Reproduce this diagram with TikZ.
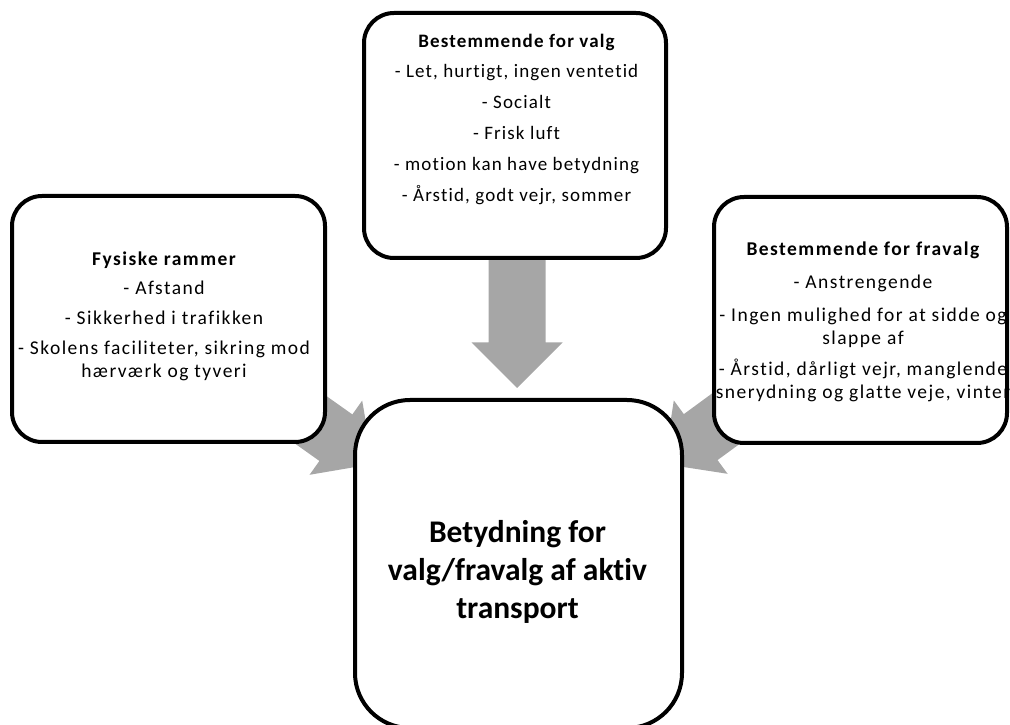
\documentclass[tikz,border=0pt]{standalone}
\usepackage{fontspec}
\setmainfont[Ligatures={NoCommon}]{Carlito}
\newfontfamily\topfont[LetterSpace=6,Ligatures={NoCommon}]{Carlito}
\newfontfamily\sidefont[LetterSpace=7.5,Ligatures={NoCommon}]{Carlito}
\usetikzlibrary{calc}
\pgfdeclarelayer{background}
\pgfsetlayers{background,main}
\definecolor{arrowgray}{HTML}{A6A6A6}

% Block arrow from #1 (start of the shaft) to #2 (tip)
\newcommand\blockarrow[2]{%
  \coordinate (ha) at ($(#2)!45.5pt!(#1)$);
  \fill[arrowgray]
    ($(#1)!28.5pt!90:(#2)$) -- ($(ha)!28.5pt!90:(#2)$) -- ($(ha)!45.5pt!90:(#2)$)
    -- (#2)
    -- ($(ha)!45.5pt!-90:(#2)$) -- ($(ha)!28.5pt!-90:(#2)$) -- ($(#1)!28.5pt!-90:(#2)$)
    -- cycle;}

\begin{document}
\begin{tikzpicture}[x=1pt,y=1pt,
  box/.style={draw=black, line width=4pt, fill=white, rounded corners=30pt, inner sep=0pt},
  boxtext/.style={align=center, anchor=base, inner sep=0pt},
  toptext/.style={font=\topfont\fontsize{19}{31}\selectfont},
  sidetext/.style={font=\sidefont\fontsize{19.5}{#1}\selectfont},
  bigtext/.style={font=\fontsize{31.5}{38}\selectfont\bfseries}]
\useasboundingbox (0,0) rectangle (1010,724);

% boxes
\node[box, minimum width=302pt, minimum height=245pt] (valg) at (515,588.5) {};
\node[box, minimum width=313pt, minimum height=246pt] (fysisk) at (168.5,405) {};
\node[box, minimum width=293pt, minimum height=246pt] (fravalg) at (860.5,404) {};
\node[box, rounded corners=55pt, minimum width=327pt, minimum height=328pt] (betydning) at (518.5,160) {};

% arrow tips and shaft starts
\coordinate (valgstart) at (517,500);
\coordinate (valgtip) at (517,336);
\coordinate (fysisktip) at (373,260);
\coordinate (fravalgtip) at (664,260);

\begin{pgfonlayer}{background}
  \blockarrow{valgstart}{valgtip}
  \blockarrow{fysisk.center}{fysisktip}
  \blockarrow{fravalg.center}{fravalgtip}
\end{pgfonlayer}

% texts (each node is placed at the baseline of its last line)
\node[boxtext, toptext] (valgtxt) at (516.5,522)
  {\bfseries Bestemmende for valg\\[-1pt]
   - Let, hurtigt, ingen ventetid\\
   - Socialt\\
   - Frisk luft\\
   - motion kan have betydning\\
   - Årstid, godt vejr, sommer};

\node[boxtext, sidetext=23.5] (fysisktxt) at (164,346)
  {\bfseries Fysiske rammer\\[5pt]
   - Afstand\\[6.5pt]
   - Sikkerhed i trafikken\\[6.5pt]
   - Skolens faciliteter, sikring mod\\
   hærværk og tyveri};

\node[boxtext, sidetext=23] (fravalgtxt) at (863,325)
  {\bfseries Bestemmende for fravalg\\[10pt]
   - Anstrengende\\[9pt]
   - Ingen mulighed for at sidde og\\
   slappe af\\[9pt]
   - Årstid, dårligt vejr, manglende\\
   snerydning og glatte veje, vinter};

\node[boxtext, bigtext] (betydningtxt) at (517.5,106)
  {Betydning for\\ valg/fravalg af aktiv\\ transport};
\end{tikzpicture}
\end{document}
